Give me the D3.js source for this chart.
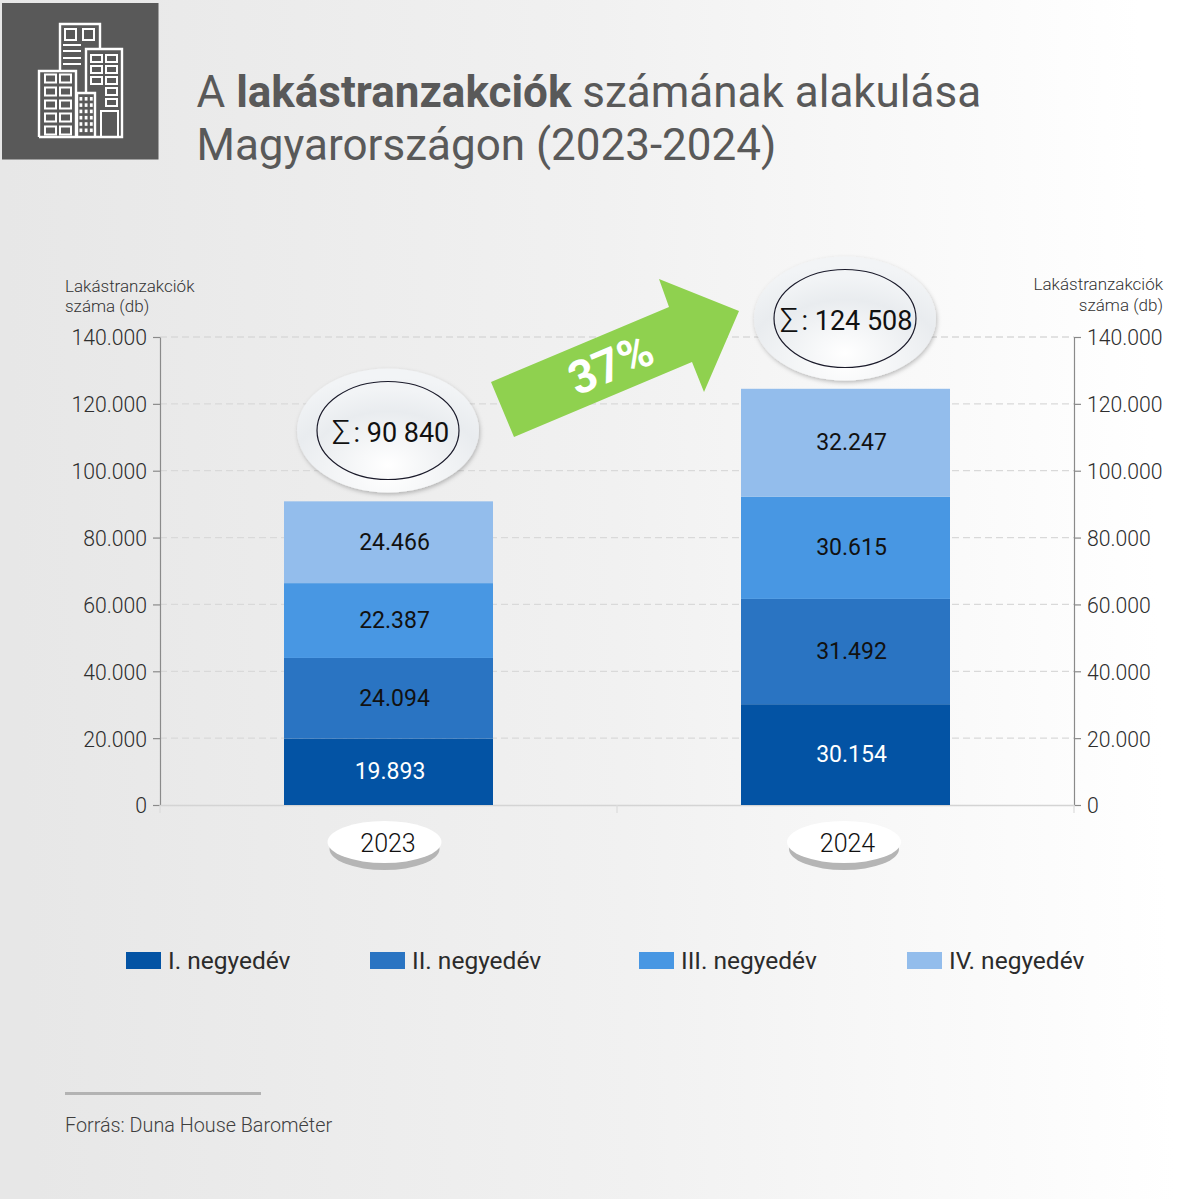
<!DOCTYPE html>
<html lang="hu"><head><meta charset="utf-8">
<script src="https://cdn.jsdelivr.net/npm/d3@7"></script>
<style>html,body{margin:0;padding:0;background:#fff;overflow:hidden}svg{display:block}text{font-family:Roboto,sans-serif}</style>
</head><body>
<script>
const years = ["2023", "2024"];
const quarters = ["I. negyedév", "II. negyedév", "III. negyedév", "IV. negyedév"];
const q1 = [19893, 30154];
const q2 = [24094, 31492];
const q3 = [22387, 30615];
const q4 = [24466, 32247];
const totals = ["90 840", "124 508"];
const yTicks = [0, 20000, 40000, 60000, 80000, 100000, 120000, 140000];
const colors = ["#0353a4", "#2a74c2", "#4897e3", "#93bdec"];
const growth = "37%";

const W = 1200, H = 1199;
const svg = d3.select("body").append("svg").attr("width", W).attr("height", H);
const defs = svg.append("defs");
const bg = defs.append("linearGradient").attr("id", "bg").attr("x1", 0).attr("x2", 1).attr("y1", 0.03).attr("y2", 0);
bg.append("stop").attr("offset", 0).attr("stop-color", "#e7e7e7");
bg.append("stop").attr("offset", 0.5).attr("stop-color", "#f1f1f1");
bg.append("stop").attr("offset", 0.95).attr("stop-color", "#ffffff");
const rg = defs.append("radialGradient").attr("id", "oval").attr("cx", 0.5).attr("cy", 0.85).attr("r", 0.78);
rg.append("stop").attr("offset", 0).attr("stop-color", "#ffffff");
rg.append("stop").attr("offset", 0.7).attr("stop-color", "#e9ecef");
rg.append("stop").attr("offset", 1).attr("stop-color", "#f2f4f6");
const sh = defs.append("filter").attr("id", "shadow").attr("x", "-20%").attr("y", "-20%").attr("width", "140%").attr("height", "140%");
sh.append("feDropShadow").attr("dx", 1).attr("dy", 2).attr("stdDeviation", 2).attr("flood-color", "#000").attr("flood-opacity", 0.25);

svg.append("rect").attr("width", W).attr("height", H).attr("fill", "url(#bg)");

// header
svg.append("rect").attr("x", 2).attr("y", 3).attr("width", 156.5).attr("height", 156.5).attr("fill", "#595959");
const icon = svg.append("g").attr("fill", "none").attr("stroke", "#fff").attr("stroke-width", 2);
icon.append("path").attr("stroke-width", 2.4).attr("d", "M60 70V24H100V49 M39 137V71H76V137 M77 137V93H95V137 M86 93V49H122V137H39");
icon.append("rect").attr("x", 65).attr("y", 29).attr("width", 11).attr("height", 11);
icon.append("rect").attr("x", 83).attr("y", 29).attr("width", 11).attr("height", 11);
[45, 51, 58, 64].forEach(y => icon.append("line").attr("x1", 63).attr("x2", 81).attr("y1", y).attr("y2", y));
for (let r = 0; r < 5; r++) for (let c = 0; c < 2; c++)
  icon.append("rect").attr("x", 45 + c * 15).attr("y", 74.5 + r * 13).attr("width", 11).attr("height", 8);
for (let r = 0; r < 5; r++) for (let c = 0; c < 2; c++) {
  if (c === 0 && r > 2) continue;
  icon.append("rect").attr("x", 91 + c * 15).attr("y", 55 + r * 11).attr("width", 11).attr("height", 7);
}
icon.append("rect").attr("x", 101).attr("y", 111).attr("width", 17).attr("height", 26);
for (let r = 0; r < 6; r++) for (let c = 0; c < 3; c++)
  svg.append("rect").attr("x", 79.5 + c * 5.2).attr("y", 97 + r * 6.3).attr("width", 2.8).attr("height", 3.6).attr("fill", "#fff");

const title = svg.append("g").attr("fill", "#595959").attr("font-size", 44);
const t1 = title.append("text").attr("x", 196.5).attr("y", 106.5);
t1.append("tspan").text("A ");
t1.append("tspan").attr("font-weight", 700).text("lakástranzakciók");
t1.append("tspan").text(" számának alakulása");
title.append("text").attr("x", 196.5).attr("y", 159.5).text("Magyarországon (2023-2024)");

// scales
const x = d3.scaleBand().domain(years).range([160, 1074]).paddingInner(0.5427).paddingOuter(0.27135);
const y = d3.scaleLinear().domain([0, 140000]).range([805, 337]);
const fmt = d => d === 0 ? "0" : d3.format(",")(d).replace(/,/g, ".");

// grid
svg.append("g").selectAll("line").data(yTicks.filter(d => d > 0)).join("line")
  .attr("x1", 160).attr("x2", 1074).attr("y1", d => y(d)).attr("y2", d => y(d))
  .attr("stroke", "#d9d9d9").attr("stroke-width", 1.3).attr("stroke-dasharray", "7 4");

function styleAxis(g) {
  g.select(".domain").attr("stroke", "#8a8a8a").attr("stroke-width", 1.2);
  g.selectAll(".tick line").attr("stroke", "#8a8a8a").attr("stroke-width", 1.2);
  g.selectAll(".tick text").attr("font-size", 21.2).attr("font-weight", 300).attr("fill", "#2e2e2e")
    .attr("font-family", "Roboto,sans-serif").attr("dy", "0.37em");
}
svg.append("g").attr("transform", "translate(160,0)")
  .call(d3.axisLeft(y).tickValues(yTicks).tickFormat(fmt).tickSize(7).tickSizeOuter(0).tickPadding(6)).call(styleAxis);
svg.append("g").attr("transform", "translate(1074,0)")
  .call(d3.axisRight(y).tickValues(yTicks).tickFormat(fmt).tickSize(7).tickSizeOuter(0).tickPadding(6)).call(styleAxis);

// baseline with band separators
const xa = svg.append("g").attr("transform", "translate(0,805)")
  .call(d3.axisBottom(x).tickSize(0).tickFormat(""));
xa.select(".domain").attr("stroke", "#d4d4d4").attr("stroke-width", 1.3);
svg.append("g").selectAll("line").data([160, (160 + 1074) / 2, 1074]).join("line")
  .attr("x1", d => d).attr("x2", d => d).attr("y1", 805).attr("y2", 813)
  .attr("stroke", "#dcdcdc").attr("stroke-width", 1.2);

// stacks
const table = years.map((yr, i) => ({ year: yr, q1: q1[i], q2: q2[i], q3: q3[i], q4: q4[i] }));
const keys = ["q1", "q2", "q3", "q4"];
const stacked = d3.stack().keys(keys)(table);
const layers = svg.append("g").selectAll("g").data(stacked).join("g").attr("fill", (d, i) => colors[i]);
layers.selectAll("rect").data(d => d).join("rect")
  .attr("x", d => x(d.data.year)).attr("width", x.bandwidth())
  .attr("y", d => y(d[1])).attr("height", d => y(d[0]) - y(d[1]));
layers.selectAll("text").data((d, i) => d.map(v => ({ v, i }))).join("text")
  .attr("x", d => x(d.v.data.year) + x.bandwidth() / 2 + (d.i === 0 && d.v.data.year === "2023" ? 1.5 : 6))
  .attr("y", d => (y(d.v[0]) + y(d.v[1])) / 2 - 1)
  .attr("dy", "0.36em").attr("text-anchor", "middle").attr("font-size", 23)
  .attr("fill", d => d.i === 0 ? "#fff" : "#111")
  .text(d => fmt(d.v[1] - d.v[0]));

// axis captions
[[65, "start"], [1163, "end"]].forEach(([px, anc], k) => {
  const g = svg.append("g").attr("fill", "#333").attr("font-size", 17).attr("font-weight", 300).attr("text-anchor", anc);
  g.append("text").attr("x", px).attr("y", k ? 290 : 292).text("Lakástranzakciók");
  g.append("text").attr("x", px).attr("y", k ? 311 : 312).text("száma (db)");
});

// total ovals
const ovalCy = [430.5, 318.5];
years.forEach((yr, i) => {
  const cx = x(yr) + x.bandwidth() / 2 - 0.5;
  svg.append("ellipse").attr("cx", cx).attr("cy", ovalCy[i]).attr("rx", 91).attr("ry", 62)
    .attr("fill", "url(#oval)").attr("filter", "url(#shadow)");
  svg.append("ellipse").attr("cx", cx).attr("cy", ovalCy[i]).attr("rx", 71).attr("ry", 49)
    .attr("fill", "url(#oval)").attr("stroke", "#1a1a2a").attr("stroke-width", 1.2);
  const lab = svg.append("text").attr("y", ovalCy[i] + 11).attr("font-size", 27).attr("fill", "#111")
    .attr("x", cx + (i === 0 ? -56 : -65));
  lab.append("tspan").attr("font-size", 33).attr("font-weight", 300).attr("dy", 2).text("Σ");
  lab.append("tspan").attr("dy", -2).attr("dx", 3).text(": " + totals[i]);
  // year pill
  const pcx = cx + (i === 0 ? -3.5 : -1);
  svg.append("ellipse").attr("cx", pcx).attr("cy", 849).attr("rx", 55).attr("ry", 21).attr("fill", "#b5b5b5");
  svg.append("ellipse").attr("cx", pcx).attr("cy", 842).attr("rx", 57).attr("ry", 21).attr("fill", "#fff");
  svg.append("text").attr("x", pcx + 3.5).attr("y", 852).attr("text-anchor", "middle")
    .attr("font-size", 25).attr("font-weight", 300).attr("fill", "#111").text(yr);
});

// growth arrow
svg.append("path").attr("fill", "#8fd14f")
  .attr("d", "M491 382L669 307L659 279L739 311L704 392L692 362L514 437Z");
svg.append("text").attr("transform", "translate(617,379) rotate(-23)").attr("text-anchor", "middle")
  .attr("font-size", 46).attr("font-weight", 700).attr("fill", "#fff").text(growth);

// legend
const legendX = [126, 370, 639, 907];
const lg = svg.append("g").selectAll("g").data(quarters).join("g");
lg.append("rect").attr("x", (d, i) => legendX[i]).attr("y", 952).attr("width", 35).attr("height", 17)
  .attr("fill", (d, i) => colors[i]);
lg.append("text").attr("x", (d, i) => legendX[i] + 42).attr("y", 968.5).attr("font-size", 24.5).attr("fill", "#2b2b2b").text(d => d);

// source
svg.append("rect").attr("x", 65).attr("y", 1092).attr("width", 196).attr("height", 3).attr("fill", "#b3b3b3");
svg.append("text").attr("x", 65).attr("y", 1131.5).attr("font-size", 19.8).attr("font-weight", 300).attr("fill", "#3f3f3f").text("Forrás: Duna House Barométer");
</script>
</body></html>
